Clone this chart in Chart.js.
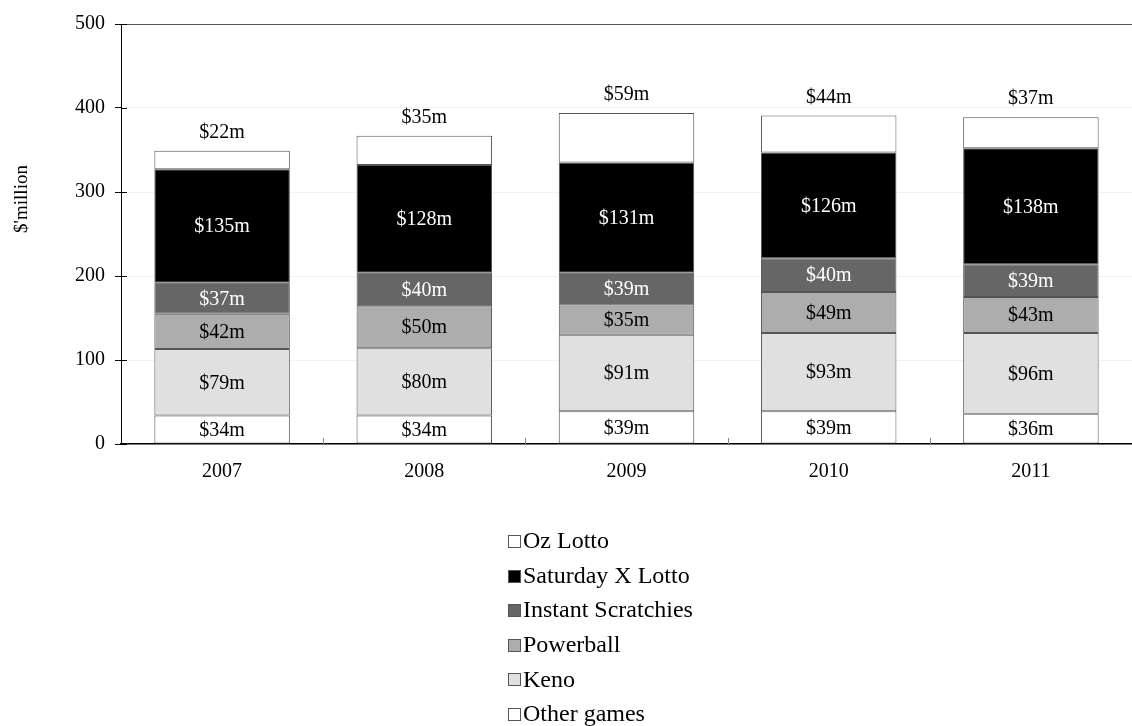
<!DOCTYPE html>
<html>
<head>
<meta charset="utf-8">
<script src="https://cdn.jsdelivr.net/npm/chart.js@4/dist/chart.umd.min.js"></script>
<style>
  html, body { margin: 0; padding: 0; background: #fff; }
  #wrap { width: 1132px; height: 726px; }
</style>
</head>
<body>
<div id="wrap"><canvas id="lotteryChart" width="1132" height="726"></canvas></div>
<script>
// Lottery revenue by game, $ million
const years = ['2007', '2008', '2009', '2010', '2011'];
const otherGames = [34, 34, 39, 39, 36];
const keno = [79, 80, 91, 93, 96];
const powerball = [42, 50, 35, 49, 43];
const instantScratchies = [37, 40, 39, 40, 39];
const saturdayXLotto = [135, 128, 131, 126, 138];
const ozLotto = [22, 35, 59, 44, 37];
const yTicks = [0, 100, 200, 300, 400, 500];

const FONT = '"Liberation Serif", "Times New Roman", serif';

function series(label, data, fill, textColor, labelAbove) {
    return {
        label: label,
        data: data,
        backgroundColor: fill,
        borderColor: '#555',
        borderWidth: 1,
        borderSkipped: false,
        textColor: textColor,
        labelAbove: !!labelAbove
    };
}

// value labels inside / above the segments
const valueLabels = {
    id: 'valueLabels',
    afterDatasetsDraw(chart) {
        const ctx = chart.ctx;
        ctx.save();
        ctx.font = '20px ' + FONT;
        ctx.textAlign = 'center';
        ctx.textBaseline = 'middle';
        chart.data.datasets.forEach((ds, i) => {
            const meta = chart.getDatasetMeta(i);
            meta.data.forEach((bar, j) => {
                const text = '$' + ds.data[j] + 'm';
                ctx.fillStyle = ds.textColor;
                if (ds.labelAbove) {
                    ctx.fillText(text, bar.x, bar.y - 18);
                } else {
                    ctx.fillText(text, bar.x, (bar.y + bar.base) / 2 + 1);
                }
            });
        });
        ctx.restore();
    }
};

// small inward ticks, y title, vertical legend
const extras = {
    id: 'extras',
    afterDraw(chart) {
        const ctx = chart.ctx;
        const x = chart.scales.x;
        const y = chart.scales.y;
        const area = chart.chartArea;
        ctx.save();
        ctx.strokeStyle = '#888';
        ctx.lineWidth = 1;
        for (let i = 1; i < years.length; i++) {
            const px = Math.round((x.getPixelForValue(i - 1) + x.getPixelForValue(i)) / 2) + 0.5;
            ctx.beginPath();
            ctx.moveTo(px, area.bottom);
            ctx.lineTo(px, area.bottom - 6);
            ctx.stroke();
        }
        ctx.strokeStyle = '#000';
        yTicks.forEach(v => {
            const py = Math.round(y.getPixelForValue(v)) + 0.5;
            ctx.beginPath();
            ctx.moveTo(area.left, py);
            ctx.lineTo(area.left + 6, py);
            ctx.stroke();
        });

        ctx.fillStyle = '#000';
        ctx.font = '19px ' + FONT;
        ctx.textAlign = 'center';
        ctx.textBaseline = 'middle';
        ctx.translate(22, 199);
        ctx.rotate(-Math.PI / 2);
        ctx.fillText("$'million", 0, 0);
        ctx.restore();

        ctx.save();
        ctx.font = '24px ' + FONT;
        ctx.textBaseline = 'middle';
        ctx.textAlign = 'left';
        const items = chart.data.datasets.slice().reverse();
        items.forEach((ds, k) => {
            const cy = 541 + k * 34.6;
            const top = Math.round(cy - 6) + 0.5;
            ctx.fillStyle = ds.backgroundColor;
            ctx.fillRect(508.5, top, 12, 12);
            ctx.strokeStyle = '#555';
            ctx.strokeRect(508.5, top, 12, 12);
            ctx.fillStyle = '#000';
            ctx.fillText(ds.label, 523, cy + 1);
        });
        ctx.restore();
    }
};

document.addEventListener('DOMContentLoaded', () => {
    const el = document.getElementById('lotteryChart');
    if (el) {
        const ctx = el.getContext('2d');
        new Chart(ctx, {
            type: 'bar',
            data: {
                labels: years,
                datasets: [
                    series('Other games', otherGames, '#ffffff', '#000'),
                    series('Keno', keno, '#e0e0e0', '#000'),
                    series('Powerball', powerball, '#adadad', '#000'),
                    series('Instant Scratchies', instantScratchies, '#666666', '#fff'),
                    series('Saturday X Lotto', saturdayXLotto, '#000000', '#fff'),
                    series('Oz Lotto', ozLotto, '#ffffff', '#000', true)
                ]
            },
            options: {
                responsive: false,
                animation: false,
                layout: { padding: { top: 24, right: 0, bottom: 242, left: 0 } },
                datasets: { bar: { categoryPercentage: 1, barPercentage: 0.67 } },
                plugins: {
                    legend: { display: false },
                    tooltip: { enabled: false }
                },
                scales: {
                    x: {
                        stacked: true,
                        grid: { display: false },
                        border: { color: '#000', width: 1.5 },
                        ticks: { color: '#000', font: { family: FONT, size: 20 }, padding: 8 },
                        afterFit(scale) { scale.height = 40; }
                    },
                    y: {
                        stacked: true,
                        min: 0,
                        max: 500,
                        afterBuildTicks(scale) { scale.ticks = yTicks.map(v => ({ value: v })); },
                        grid: {
                            color: ctx => ctx.tick && ctx.tick.value === 500 ? '#555' : '#f2f2f2',
                            tickColor: '#000',
                            tickLength: 6
                        },
                        border: { color: '#000', width: 1 },
                        ticks: { color: '#000', font: { family: FONT, size: 20 }, padding: 10 },
                        afterFit(scale) { scale.width = 121; }
                    }
                }
            },
            plugins: [valueLabels, extras]
        });
    }
});
</script>
</body>
</html>
